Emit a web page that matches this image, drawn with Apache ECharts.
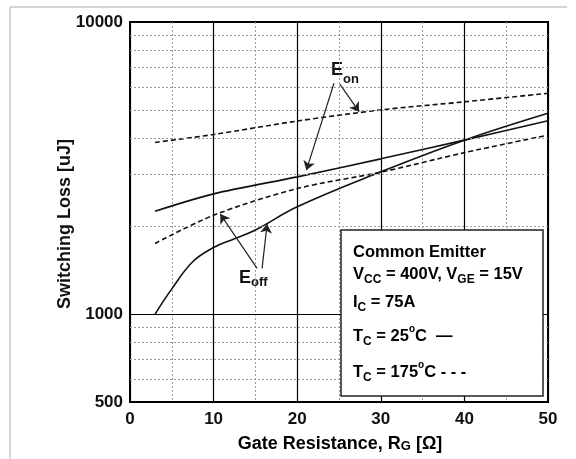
<!DOCTYPE html>
<html>
<head>
<meta charset="utf-8">
<script src="https://cdn.jsdelivr.net/npm/echarts@6/dist/echarts.min.js"></script>
<style>
  html, body { margin: 0; padding: 0; background: #fff; }
  #main { width: 576px; height: 459px; }
</style>
</head>
<body>
<div id="main"></div>
<script>
// gate resistance (ohm) and switching loss (uJ)
var rg = [3, 10, 20, 30, 40, 50];
var eon25 = [2250, 2580, 2950, 3400, 3940, 4590];
var eon175 = [3870, 4120, 4580, 5000, 5330, 5700];
var eoff175 = [1745, 2180, 2690, 3060, 3570, 4100];
var rgOff25 = [3, 5, 7.5, 10, 12.5, 15, 20, 30, 40, 50];
var eoff25 = [1000, 1220, 1510, 1690, 1810, 1940, 2330, 3070, 3940, 4870];

var yTickLabels = [500, 1000, 10000];
var yMajor = [1000];
var yMinor = [600, 700, 800, 900, 2000, 3000, 4000, 5000, 6000, 7000, 8000, 9000];

// annotation arrows [from, to] in data units
var eonArrows = [[[24.4, 6170], [21.1, 3110]], [[25.1, 6130], [27.4, 4930]]];
var eoffArrows = [[[15.2, 1434], [10.8, 2200]], [[15.8, 1434], [16.4, 2033]]];

function zip(xs, ys) {
  var out = [];
  for (var i = 0; i < xs.length; i++) out.push([xs[i], ys[i]]);
  return out;
}

var myChart = echarts.init(document.getElementById('main'));
var FONT = 'Liberation Sans, Arial, sans-serif';

var gridLines = [];
yMajor.forEach(function (v) {
  gridLines.push({ yAxis: v, lineStyle: { color: '#000', width: 1.2, type: 'solid' } });
});
yMinor.forEach(function (v) {
  gridLines.push({ yAxis: v, lineStyle: { color: '#9a9a9a', width: 1, type: [2, 2] } });
});

var arrowLines = [];
eonArrows.concat(eoffArrows).forEach(function (a) {
  arrowLines.push([{ coord: a[0] }, { coord: a[1] }]);
});

var legendRich = {
  m: { fontSize: 16.5, fontWeight: 'bold', fontFamily: FONT, color: '#111', lineHeight: 24, verticalAlign: 'middle' },
  s: { fontSize: 12, fontWeight: 'bold', fontFamily: FONT, color: '#111', verticalAlign: 'bottom' },
  p: { fontSize: 10, fontWeight: 'bold', fontFamily: FONT, color: '#111', verticalAlign: 'top' }
};

function legendLine(y, text) {
  return {
    type: 'text', x: 353, y: y, z: 102,
    style: { text: text, rich: legendRich, verticalAlign: 'middle', align: 'left' }
  };
}

var option = {
  animation: false,
  backgroundColor: '#fff',
  grid: {
    left: 130, right: 28, top: 22, bottom: 57,
    show: true, borderColor: '#000', borderWidth: 2, backgroundColor: 'transparent'
  },
  xAxis: {
    type: 'value', min: 0, max: 50, interval: 10,
    axisLine: { show: true, lineStyle: { color: '#000', width: 2 } },
    axisTick: { show: false },
    minorTick: { show: false, splitNumber: 2 },
    axisLabel: { color: '#111', fontSize: 17, fontWeight: 'bold', fontFamily: FONT, margin: 9 },
    splitLine: { show: true, lineStyle: { color: '#000', width: 1.2 } },
    minorSplitLine: { show: true, lineStyle: { color: '#9a9a9a', width: 1, type: [2, 2] } }
  },
  yAxis: {
    type: 'log', logBase: 10, min: 500, max: 10000,
    axisLine: { show: true, lineStyle: { color: '#000', width: 2 } },
    axisTick: { show: false },
    splitLine: { show: false },
    axisLabel: {
      customValues: yTickLabels,
      formatter: function (v) { return String(Math.round(v)); },
      color: '#111', fontSize: 17, fontWeight: 'bold', fontFamily: FONT, margin: 7
    }
  },
  series: [
    {
      name: 'grid', type: 'line', data: [], silent: true,
      markLine: { silent: true, symbol: 'none', label: { show: false }, data: gridLines }
    },
    {
      name: 'Eon 25', type: 'line', data: zip(rg, eon25), smooth: 0.3, showSymbol: false,
      lineStyle: { color: '#111', width: 1.6 }
    },
    {
      name: 'Eoff 25', type: 'line', data: zip(rgOff25, eoff25), smooth: 0.4, showSymbol: false,
      lineStyle: { color: '#111', width: 1.6 }
    },
    {
      name: 'Eon 175', type: 'line', data: zip(rg, eon175), smooth: 0.3, showSymbol: false,
      lineStyle: { color: '#111', width: 1.6, type: [5, 3] }
    },
    {
      name: 'Eoff 175', type: 'line', data: zip(rg, eoff175), smooth: 0.3, showSymbol: false,
      lineStyle: { color: '#111', width: 1.6, type: [5, 3] }
    },
    {
      name: 'arrows', type: 'line', data: [], silent: true,
      markLine: {
        silent: true, symbol: ['none', 'arrow'], symbolSize: 9,
        label: { show: false },
        lineStyle: { color: '#222', width: 1.2, type: 'solid' },
        data: arrowLines
      }
    }
  ],
  graphic: [
    // outer frame of the scanned figure
    { type: 'line', shape: { x1: 10, y1: 7, x2: 10, y2: 459 }, style: { stroke: '#aaa', lineWidth: 1 } },
    { type: 'line', shape: { x1: 10, y1: 7, x2: 567, y2: 7 }, style: { stroke: '#aaa', lineWidth: 1 } },
    {
      type: 'text', x: 65, y: 224, rotation: Math.PI / 2,
      style: { text: 'Switching Loss [uJ]', font: 'bold 18px ' + FONT, fill: '#111', align: 'center', verticalAlign: 'middle' }
    },
    {
      type: 'text', x: 340, y: 444,
      style: {
        text: '{m|Gate Resistance, R}{g|G}{m| [Ω]}',
        rich: {
          m: { fontSize: 18, fontWeight: 'bold', fontFamily: FONT, color: '#111', lineHeight: 22, verticalAlign: 'middle' },
          g: { fontSize: 13, fontWeight: 'bold', fontFamily: FONT, color: '#111', lineHeight: 22, verticalAlign: 'middle', padding: [4, 0, 0, 0] }
        },
        align: 'center', verticalAlign: 'middle'
      }
    },
    // curve labels
    { type: 'text', x: 331, y: 61, style: { text: 'E', font: 'bold 18px ' + FONT, fill: '#111' } },
    { type: 'text', x: 343, y: 73, style: { text: 'on', font: 'bold 13px ' + FONT, fill: '#111' } },
    { type: 'text', x: 239, y: 269, style: { text: 'E', font: 'bold 18px ' + FONT, fill: '#111' } },
    { type: 'text', x: 251, y: 276, style: { text: 'off', font: 'bold 13px ' + FONT, fill: '#111' } },
    // condition box
    {
      type: 'rect', shape: { x: 341, y: 230, width: 202, height: 166 }, z: 100,
      style: { fill: '#fff', stroke: '#222', lineWidth: 1.5 }
    },
    legendLine(252, '{m|Common Emitter}'),
    legendLine(274, '{m|V}{s|CC}{m| = 400V, V}{s|GE}{m| = 15V}'),
    legendLine(302, '{m|I}{s|C}{m| = 75A}'),
    legendLine(336, '{m|T}{s|C}{m| = 25}{p|o}{m|C  —}'),
    legendLine(372, '{m|T}{s|C}{m| = 175}{p|o}{m|C - - -}')
  ]
};

myChart.setOption(option);
</script>
</body>
</html>
